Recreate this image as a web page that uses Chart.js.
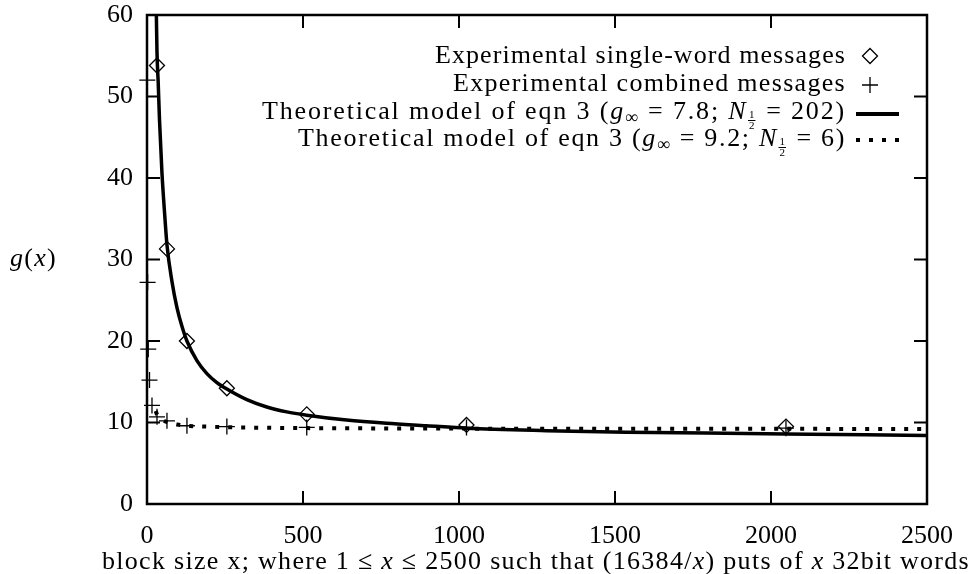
<!DOCTYPE html>
<html>
<head>
<meta charset="utf-8">
<script src="https://cdn.jsdelivr.net/npm/chart.js@4.4.1/dist/chart.umd.min.js"></script>
<style>
  body { margin: 0; background: #fff; }
  #wrap { width: 978px; height: 574px; position: relative; }
</style>
</head>
<body>
<div id="wrap"><canvas id="chart"></canvas></div>
<script>
// measured points (block size x, g(x))
const singleX = [32, 64, 128, 256, 512, 1024, 2048]
const singleY = [53.8, 31.3, 20.0, 14.2, 11.0, 9.7, 9.5]

const combinedX = [1, 2, 4, 8, 16, 32, 64, 128, 256, 512, 1024, 2048]
const combinedY = [52.0, 27.2, 19.0, 15.2, 12.1, 10.7, 10.2, 9.6, 9.5, 9.4, 9.4, 9.3]

// theoretical curves
const model1X = [30, 32, 36, 40, 48, 56, 64, 80, 96, 112, 128, 160, 192, 224, 256, 320, 384, 448, 512, 640, 768, 896, 1024, 1280, 1536, 1792, 2048, 2304, 2500]
const model1Y = [60, 55.5, 51.6, 47.2, 40.6, 35.9, 31.8, 27.3, 24.1, 21.8, 20.0, 17.6, 16.0, 14.9, 14.1, 12.8, 11.9, 11.3, 10.9, 10.3, 9.9, 9.6, 9.3, 9.0, 8.8, 8.7, 8.6, 8.5, 8.4]

const model2X = [28, 32, 40, 48, 64, 96, 128, 192, 256, 384, 512, 768, 1024, 1536, 2048, 2500]
const model2Y = [11.4, 11.0, 10.6, 10.35, 10.05, 9.75, 9.6, 9.5, 9.42, 9.35, 9.31, 9.27, 9.25, 9.23, 9.22, 9.21]

const xTicks = [0, 500, 1000, 1500, 2000, 2500]
const yTicks = [0, 10, 20, 30, 40, 50, 60]

const seriesNames = [
    "Experimental single-word messages",
    "Experimental combined messages",
    "Theoretical model of eqn 3 (g∞ = 7.8; N½ = 202)",
    "Theoretical model of eqn 3 (g∞ = 9.2; N½ = 6)"
]

const SERIF = '"Liberation Serif", "Times New Roman", serif'
const FS = 26
const EQ = ' = '

function pairs(xs, ys) {
    return xs.map((x, i) => ({ x: x, y: ys[i] }))
}

// rich text: {t, it, size, dy} or {frac: [num, den]}
function segFont(s) {
    return (s.it ? 'italic ' : '') + (s.size || FS) + 'px ' + SERIF
}

function countChars(segs) {
    let n = 0
    segs.forEach(s => { n += s.frac ? 1 : s.t.length })
    return n
}

function richWidth(ctx, segs) {
    let w = 0
    segs.forEach(s => {
        if (s.frac) {
            ctx.font = '11px ' + SERIF
            w += Math.max(ctx.measureText(s.frac[0]).width, ctx.measureText(s.frac[1]).width) + 3
        } else {
            ctx.font = segFont(s)
            w += ctx.measureText(s.t).width
        }
    })
    return w
}

// draws segments between left and right so the run fills that width
function drawRich(ctx, segs, left, right, y) {
    ctx.letterSpacing = '0px'
    let w = richWidth(ctx, segs)
    let extra = (right - left - w) / countChars(segs)
    let cx = left
    ctx.textBaseline = 'alphabetic'
    segs.forEach(s => {
        if (s.frac) {
            ctx.letterSpacing = '0px'
            ctx.font = '11px ' + SERIF
            let fw = Math.max(ctx.measureText(s.frac[0]).width, ctx.measureText(s.frac[1]).width) + 3
            ctx.textAlign = 'center'
            ctx.fillText(s.frac[0], cx + fw / 2, y - 1)
            ctx.fillText(s.frac[1], cx + fw / 2, y + 10)
            ctx.fillRect(cx + 0.5, y + 1, fw - 1, 1)
            cx += fw + extra
        } else {
            ctx.textAlign = 'left'
            ctx.font = segFont(s)
            ctx.letterSpacing = extra + 'px'
            ctx.fillText(s.t, cx, y + (s.dy || 0))
            ctx.letterSpacing = '0px'
            cx += ctx.measureText(s.t).width + extra * s.t.length
        }
    })
    ctx.letterSpacing = '0px'
}

const legendRows = [
    [{ t: seriesNames[0] }],
    [{ t: seriesNames[1] }],
    [{ t: 'Theoretical model of eqn 3 (' }, { t: 'g', it: 1 }, { t: '∞', size: 18, dy: 4 },
     { t: EQ + '7.8; ' }, { t: 'N', it: 1 }, { frac: ['1', '2'] }, { t: EQ + '202)' }],
    [{ t: 'Theoretical model of eqn 3 (' }, { t: 'g', it: 1 }, { t: '∞', size: 18, dy: 4 },
     { t: EQ + '9.2; ' }, { t: 'N', it: 1 }, { frac: ['1', '2'] }, { t: EQ + '6)' }]
]
const legendLeft = [435, 453, 262, 298]
const legendBase = [63, 91, 119, 146]
const legendMark = [56, 85, 114, 140]

const xTitle = [
    { t: 'block size x; where 1 ≤ ' }, { t: 'x', it: 1 }, { t: ' ≤ 2500 such that (16384/' },
    { t: 'x', it: 1 }, { t: ') puts of ' }, { t: 'x', it: 1 }, { t: ' 32bit words' }
]
const yTitle = [{ t: 'g', it: 1 }, { t: '(' }, { t: 'x', it: 1 }, { t: ')' }]

const framePlugin = {
    id: 'frame',
    afterDraw(chart) {
        const ctx = chart.ctx
        const a = chart.chartArea
        const sx = chart.scales.x
        const sy = chart.scales.y
        ctx.save()
        ctx.strokeStyle = '#000'
        ctx.fillStyle = '#000'
        ctx.lineWidth = 2
        const tl = 13
        ctx.beginPath()
        xTicks.forEach(v => {
            let px = sx.getPixelForValue(v)
            ctx.moveTo(px, a.bottom); ctx.lineTo(px, a.bottom - tl)
            ctx.moveTo(px, a.top); ctx.lineTo(px, a.top + tl)
        })
        yTicks.forEach(v => {
            let py = sy.getPixelForValue(v)
            ctx.moveTo(a.left, py); ctx.lineTo(a.left + tl, py)
            ctx.moveTo(a.right, py); ctx.lineTo(a.right - tl, py)
        })
        ctx.stroke()
        ctx.lineWidth = 2.5
        ctx.strokeRect(a.left, a.top, a.right - a.left, a.bottom - a.top)

        // legend
        legendRows.forEach((row, i) => {
            drawRich(ctx, row, legendLeft[i], 846, legendBase[i])
        })
        let mx = 870
        let y0 = legendMark[0]
        ctx.lineWidth = 1.3
        ctx.beginPath()
        ctx.moveTo(mx - 7.5, y0); ctx.lineTo(mx, y0 - 7.5); ctx.lineTo(mx + 7.5, y0); ctx.lineTo(mx, y0 + 7.5)
        ctx.closePath()
        ctx.stroke()
        let y1 = legendMark[1]
        ctx.beginPath()
        ctx.moveTo(mx - 8, y1); ctx.lineTo(mx + 8, y1)
        ctx.moveTo(mx, y1 - 8); ctx.lineTo(mx, y1 + 8)
        ctx.stroke()
        ctx.lineWidth = 4
        ctx.beginPath()
        ctx.moveTo(856, legendMark[2]); ctx.lineTo(899, legendMark[2])
        ctx.stroke()
        ctx.setLineDash([4, 9])
        ctx.beginPath()
        ctx.moveTo(856, legendMark[3]); ctx.lineTo(899, legendMark[3])
        ctx.stroke()
        ctx.setLineDash([])

        // axis titles
        drawRich(ctx, xTitle, 102, 970, 569)
        drawRich(ctx, yTitle, 10, 57, 266)
        ctx.restore()
    }
}

const ctx = document.getElementById('chart')

const chart = new Chart(ctx, {
    type: 'scatter',
    data: {
        datasets: [
            {
                label: seriesNames[2],
                data: pairs(model1X, model1Y),
                showLine: true,
                borderColor: '#000',
                borderWidth: 3.5,
                pointRadius: 0,
                cubicInterpolationMode: 'monotone'
            },
            {
                label: seriesNames[3],
                data: pairs(model2X, model2Y),
                showLine: true,
                borderColor: '#000',
                borderWidth: 4,
                borderDash: [4, 9],
                borderCapStyle: 'butt',
                pointRadius: 0,
                cubicInterpolationMode: 'monotone'
            },
            {
                label: seriesNames[0],
                data: pairs(singleX, singleY),
                pointStyle: 'rectRot',
                pointRadius: 7.5,
                borderColor: '#000',
                borderWidth: 1.3,
                backgroundColor: 'rgba(0,0,0,0)',
                clip: false
            },
            {
                label: seriesNames[1],
                data: pairs(combinedX, combinedY),
                pointStyle: 'cross',
                pointRadius: 8,
                borderColor: '#000',
                borderWidth: 1.3,
                backgroundColor: 'rgba(0,0,0,0)',
                clip: false
            }
        ]
    },
    options: {
        responsive: true,
        maintainAspectRatio: false,
        animation: false,
        layout: { padding: { top: 15, right: 51, left: 0, bottom: 0 } },
        scales: {
            x: {
                type: 'linear',
                min: 0,
                max: 2500,
                afterFit: function (scale) {
                    scale.height = 70
                    scale.paddingLeft = 0
                    scale.paddingRight = 0
                },
                afterBuildTicks: function (scale) { scale.ticks = xTicks.map(v => ({ value: v })) },
                grid: { display: false, drawTicks: false },
                border: { display: false },
                ticks: {
                    color: '#000',
                    padding: 19,
                    maxRotation: 0,
                    callback: v => String(v),
                    font: { family: SERIF, size: FS, lineHeight: 1 }
                }
            },
            y: {
                min: 0,
                max: 60,
                afterFit: function (scale) {
                    scale.width = 147
                    scale.paddingTop = 0
                    scale.paddingBottom = 0
                },
                afterBuildTicks: function (scale) { scale.ticks = yTicks.map(v => ({ value: v })) },
                grid: { display: false, drawTicks: false },
                border: { display: false },
                ticks: {
                    color: '#000',
                    padding: 14,
                    font: { family: SERIF, size: FS, lineHeight: 1 }
                }
            }
        },
        plugins: {
            legend: { display: false },
            tooltip: { enabled: false }
        }
    },
    plugins: [framePlugin]
})
</script>
</body>
</html>
